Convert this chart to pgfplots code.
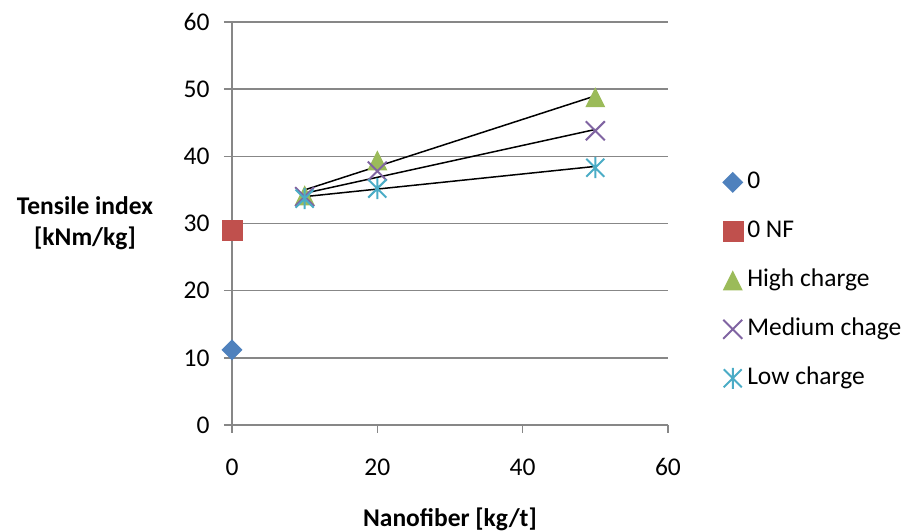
\documentclass[border=0pt]{standalone}
\usepackage{pgfplots}
\pgfplotsset{compat=1.18}
\usepackage{fontspec}
\setmainfont{Carlito}

\definecolor{serblue}{HTML}{4F81BD}
\definecolor{serred}{HTML}{C0504D}
\definecolor{sergreen}{HTML}{9BBB59}
\definecolor{serpurple}{HTML}{8064A2}
\definecolor{sercyan}{HTML}{4BACC6}
\definecolor{gridgray}{HTML}{878787}

% Office-style markers
\pgfdeclareplotmark{xldiamond}{%
  \pgfpathmoveto{\pgfqpoint{0pt}{\pgfplotmarksize}}%
  \pgfpathlineto{\pgfqpoint{\pgfplotmarksize}{0pt}}%
  \pgfpathlineto{\pgfqpoint{0pt}{-\pgfplotmarksize}}%
  \pgfpathlineto{\pgfqpoint{-\pgfplotmarksize}{0pt}}%
  \pgfpathclose\pgfusepathqfill}
\pgfdeclareplotmark{xltri}{%
  \pgfpathmoveto{\pgfqpoint{0pt}{\pgfplotmarksize}}%
  \pgfpathlineto{\pgfqpoint{\pgfplotmarksize}{-\pgfplotmarksize}}%
  \pgfpathlineto{\pgfqpoint{-\pgfplotmarksize}{-\pgfplotmarksize}}%
  \pgfpathclose\pgfusepathqfill}
\pgfdeclareplotmark{xlcross}{%
  \pgfpathmoveto{\pgfqpoint{-\pgfplotmarksize}{-\pgfplotmarksize}}%
  \pgfpathlineto{\pgfqpoint{\pgfplotmarksize}{\pgfplotmarksize}}%
  \pgfpathmoveto{\pgfqpoint{-\pgfplotmarksize}{\pgfplotmarksize}}%
  \pgfpathlineto{\pgfqpoint{\pgfplotmarksize}{-\pgfplotmarksize}}%
  \pgfusepathqstroke}
\pgfdeclareplotmark{xlstar}{%
  \pgfpathmoveto{\pgfqpoint{-.86\pgfplotmarksize}{-.86\pgfplotmarksize}}%
  \pgfpathlineto{\pgfqpoint{.86\pgfplotmarksize}{.86\pgfplotmarksize}}%
  \pgfpathmoveto{\pgfqpoint{-.86\pgfplotmarksize}{.86\pgfplotmarksize}}%
  \pgfpathlineto{\pgfqpoint{.86\pgfplotmarksize}{-.86\pgfplotmarksize}}%
  \pgfpathmoveto{\pgfqpoint{0pt}{\pgfplotmarksize}}%
  \pgfpathlineto{\pgfqpoint{0pt}{-\pgfplotmarksize}}%
  \pgfusepathqstroke}

\begin{document}
\begin{tikzpicture}
\path[use as bounding box] (-232pt,-107pt) rectangle (676pt,425pt);
\begin{axis}[
  at={(0pt,0pt)}, anchor=south west,
  scale only axis, width=436pt, height=403pt,
  xmin=0, xmax=60, ymin=0, ymax=60,
  xtick={0,20,40,60}, ytick={0,10,...,60},
  axis x line*=bottom, axis y line*=left,
  axis line style={draw=gridgray, line width=1.5pt, -},
  ymajorgrids, grid style={draw=gridgray, line width=1.5pt},
  tick align=outside, major tick length=8pt,
  tick style={draw=gridgray, line width=1.5pt},
  font=\fontsize{25.5}{30}\selectfont,
  /pgf/number format/assume math mode=true,
  xticklabel style={yshift=-22pt},
  yticklabel style={xshift=-11pt},
  xlabel={Nanofiber [kg/t]},
  xlabel style={at={(axis description cs:0.5,0)}, anchor=center, yshift=-94pt,
    font=\bfseries\fontsize{25.5}{30}\selectfont},
  clip=false,
  legend cell align=left,
  legend style={at={(1.124,0.359)}, anchor=west, draw=none, fill=none,
    inner sep=0pt, row sep=27pt, column sep=4pt,
    nodes={inner sep=0pt, text height=17pt, text depth=5pt},
    font=\fontsize{25.5}{30}\selectfont},
  legend image code/.code={%
    \draw[mark repeat=2, mark phase=2, #1] plot coordinates {(0pt,0pt) (9pt,0pt) (18pt,0pt)};},
]
\addplot[only marks, mark=xldiamond, mark size=10.5pt, color=serblue]
  coordinates {(0,11.2)};
\addlegendentry{0}
\addplot[only marks, mark=square*, mark size=10pt, color=serred]
  coordinates {(0,29.0)};
\addlegendentry{0 NF}
\addplot[only marks, mark=xltri, mark size=10pt, color=sergreen]
  coordinates {(10,34.2) (20,39.4) (50,48.8)};
\addlegendentry{High charge}
\addplot[only marks, mark=xlcross, mark size=9.5pt, color=serpurple, line width=2pt]
  coordinates {(10,34.0) (20,37.8) (50,43.8)};
\addlegendentry{Medium chage}
\addplot[only marks, mark=xlstar, mark size=10.5pt, color=sercyan, line width=2pt]
  coordinates {(10,33.7) (20,35.2) (50,38.3)};
\addlegendentry{Low charge}
% linear trend lines
\addplot[black, line width=1.5pt, forget plot] coordinates {(10,35.0) (50,49.0)};
\addplot[black, line width=1.5pt, forget plot] coordinates {(10,34.5) (50,44.0)};
\addplot[black, line width=1.5pt, forget plot] coordinates {(10,34.0) (50,38.5)};
\node[align=center, font=\bfseries\fontsize{25.5}{31}\selectfont, xshift=-147pt]
  at (rel axis cs:0,0.5) {Tensile index\\{[kNm/kg]}};
\end{axis}
\end{tikzpicture}
\end{document}
